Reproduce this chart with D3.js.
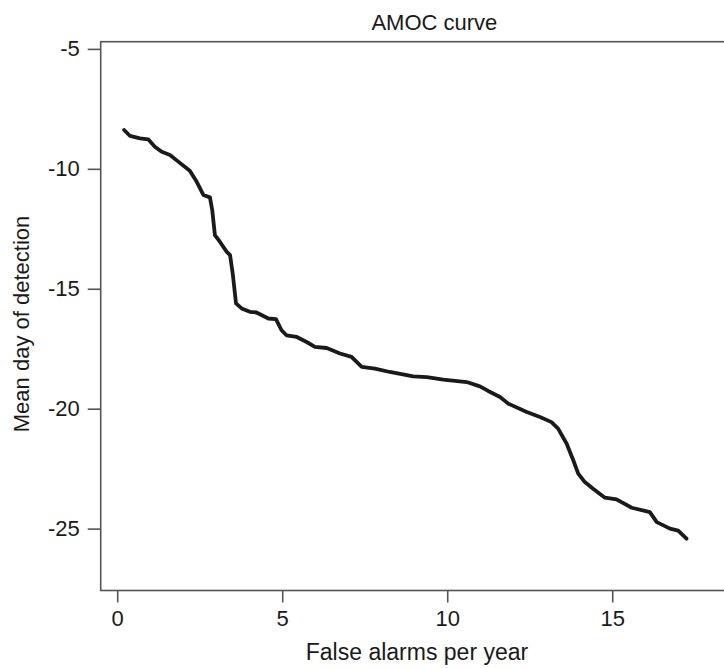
<!DOCTYPE html>
<html>
<head>
<meta charset="utf-8">
<script src="https://cdn.jsdelivr.net/npm/d3@7/dist/d3.min.js"></script>
<style>
  html, body { margin: 0; padding: 0; background: #fff; }
  svg { display: block; }
  text { font-family: "Liberation Sans", Arial, Helvetica, sans-serif; fill: #1a1a1a; }
</style>
</head>
<body>
<svg id="chart" width="724" height="668"></svg>
<script>
// ---- data ----
const falseAlarms = [0.21, 0.39, 0.69, 0.94, 1.14, 1.35, 1.60, 1.85, 2.20, 2.41, 2.61, 2.81, 2.88, 2.96, 3.11, 3.32, 3.42, 3.50, 3.60, 3.77, 4.02, 4.22, 4.58, 4.81, 4.98, 5.13, 5.44, 5.74, 5.99, 6.35, 6.75, 7.10, 7.41, 7.81, 8.26, 8.97, 9.38, 9.88, 10.59, 10.99, 11.24, 11.60, 11.85, 12.41, 12.81, 13.16, 13.36, 13.62, 13.82, 13.97, 14.17, 14.42, 14.78, 15.13, 15.59, 16.14, 16.35, 16.75, 17.00, 17.25];
const meanDay = [-8.38, -8.63, -8.73, -8.77, -9.08, -9.29, -9.42, -9.70, -10.08, -10.54, -11.09, -11.19, -11.72, -12.76, -13.04, -13.46, -13.60, -14.36, -15.61, -15.82, -15.96, -15.99, -16.24, -16.27, -16.73, -16.94, -17.01, -17.22, -17.42, -17.47, -17.70, -17.84, -18.26, -18.33, -18.47, -18.65, -18.68, -18.79, -18.89, -19.07, -19.26, -19.51, -19.79, -20.14, -20.35, -20.56, -20.83, -21.46, -22.15, -22.71, -23.06, -23.34, -23.71, -23.78, -24.13, -24.31, -24.73, -25.00, -25.08, -25.42];
const xTicks = [0, 5, 10, 15];
const yTicks = [-5, -10, -15, -20, -25];
const titleText = "AMOC curve";
const xLabel = "False alarms per year";
const yLabel = "Mean day of detection";

// ---- layout ----
const svg = d3.select("#chart");
const box = { left: 100.7, top: 41.7, right: 768, bottom: 590.5 };
const x = d3.scaleLinear().domain([-0.5, 19.72]).range([box.left, box.right]);
const y = d3.scaleLinear().domain([-27.58, -4.70]).range([box.bottom, box.top]);
const axisColor = "#555";

// frame
svg.append("rect")
  .attr("x", box.left).attr("y", box.top)
  .attr("width", box.right - box.left).attr("height", box.bottom - box.top)
  .attr("fill", "none").attr("stroke", axisColor).attr("stroke-width", 1.6);

// x axis
const gx = svg.append("g")
  .attr("transform", `translate(0,${box.bottom})`)
  .call(d3.axisBottom(x).tickValues(xTicks).tickSize(12).tickPadding(8).tickFormat(d3.format("d")));
gx.select(".domain").remove();
gx.selectAll(".tick line").attr("stroke", axisColor).attr("stroke-width", 1.6);
gx.selectAll(".tick text").attr("font-size", 22).attr("fill", "#1a1a1a")
  .style("font-family", '"Liberation Sans", Arial, sans-serif');

// y axis
const gy = svg.append("g")
  .attr("transform", `translate(${box.left},0)`)
  .call(d3.axisLeft(y).tickValues(yTicks).tickSize(13).tickPadding(8).tickFormat(d => String(d)));
gy.select(".domain").remove();
gy.selectAll(".tick line").attr("stroke", axisColor).attr("stroke-width", 1.6);
gy.selectAll(".tick text").attr("font-size", 22).attr("fill", "#1a1a1a")
  .style("font-family", '"Liberation Sans", Arial, sans-serif');

// curve
const pts = falseAlarms.map((d, i) => [d, meanDay[i]]);
svg.append("path")
  .datum(pts)
  .attr("fill", "none")
  .attr("stroke", "#1a1a1a")
  .attr("stroke-width", 3.8)
  .attr("stroke-linejoin", "round")
  .attr("stroke-linecap", "round")
  .attr("d", d3.line().x(d => x(d[0])).y(d => y(d[1])));

// title & labels
svg.append("text")
  .attr("x", (box.left + box.right) / 2).attr("y", 30)
  .attr("text-anchor", "middle").attr("font-size", 22)
  .text(titleText);

svg.append("text")
  .attr("x", 417).attr("y", 660)
  .attr("text-anchor", "middle").attr("font-size", 23)
  .text(xLabel);

svg.append("text")
  .attr("transform", `translate(29,${324}) rotate(-90)`)
  .attr("text-anchor", "middle").attr("font-size", 22)
  .text(yLabel);
</script>
</body>
</html>
